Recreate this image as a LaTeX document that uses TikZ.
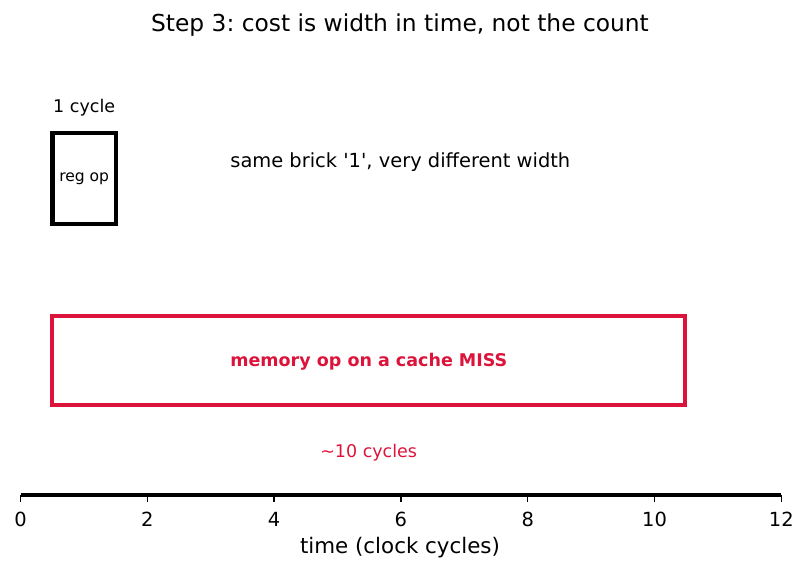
\documentclass[tikz,border=0pt]{standalone}
\usepackage{fontspec}
\setmainfont{DejaVu Sans}
\frenchspacing
\definecolor{missred}{HTML}{DC143C}
\tikzset{
  brick/.style={line width=2.1pt},
  ticklabel/.style={font=\fontsize{10}{12}\selectfont},
}
\begin{document}
\begin{tikzpicture}[x=0.5143pt,y=-0.5143pt]
	\useasboundingbox (0,0) rectangle (807,571);
	% title
	\node[font=\fontsize{12}{14}\selectfont] (title) at (400,25.5) {Step 3: cost is width in time, not the count};

	% one register op: one cycle wide
	\node[brick, draw=black, minimum width=32.6pt, minimum height=46.8pt, inner sep=0pt,
		font=\fontsize{8}{10}\selectfont] (regop) at (84.2,178.5) {\raisebox{-1pt}{reg op}};
	\node[font=\fontsize{9}{11}\selectfont] (onecycle) at (84.2,107.5) {1 cycle};
	\node[font=\fontsize{10}{12}\selectfont, anchor=west, inner sep=0pt] (same) at (230,162.5) {same brick \textquotesingle1\textquotesingle, very different width};

	% memory op on a miss: about ten cycles wide
	\node[brick, draw=missred, minimum width=325.5pt, minimum height=45.8pt, inner sep=0pt] (missbox) at (368.7,360.5) {};
	\node[font=\bfseries\fontsize{9}{11}\selectfont, text=missred, anchor=west, inner sep=0pt] (miss) at (230,361.5) {memory op on a cache MISS};
	\node[font=\fontsize{9}{11}\selectfont, text=missred] (tencycles) at (368.7,452.5) {\textasciitilde10 cycles};

	% time axis
	\coordinate (axl) at (20.5,495);
	\coordinate (axr) at (781.3,495);
	\draw[line width=2.1pt] (axl) -- (axr);
	\foreach \t in {0,2,...,12} {
		\draw[line width=0.8pt] (20.5+63.4*\t,495) -- ++(0,7);
		\node[ticklabel] at (20.5+63.4*\t,519) {\t};
	}
	\node[font=\fontsize{11}{13}\selectfont] (xlabel) at (400,548) {time (clock cycles)};
\end{tikzpicture}
\end{document}
